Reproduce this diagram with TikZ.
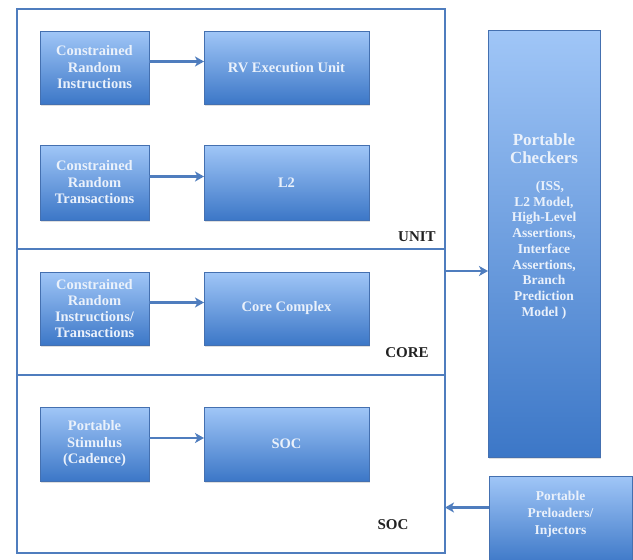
\documentclass[tikz,border=0pt]{standalone}
\usepackage{fontspec}
\setmainfont{Liberation Serif}
\usetikzlibrary{arrows.meta,shadows}
\definecolor{btop}{HTML}{A0C6F7}
\definecolor{bbot}{HTML}{3C77C7}
\definecolor{bdraw}{HTML}{4470B0}
\definecolor{framec}{HTML}{4F7DBE}
\definecolor{btxt}{HTML}{EAF1FB}
\definecolor{lbl}{HTML}{222222}
\begin{document}
\begin{tikzpicture}[x=1pt,y=-1pt,
  blk/.style={draw=bdraw, line width=0.8pt, top color=btop, bottom color=bbot,
    text=btxt, font=\bfseries\fontsize{14.5}{16.5}\selectfont, align=center,
    inner sep=2pt, outer sep=0pt,
    drop shadow={opacity=0.25, shadow xshift=1.2pt, shadow yshift=-1.5pt}},
  sec/.style={draw=framec, line width=2.4pt, inner sep=0pt, outer sep=0pt, minimum width=428pt},
  lab/.style={text=lbl, font=\bfseries\fontsize{15}{17}\selectfont, inner sep=0pt},
  wtxt/.style={text=btxt, align=center, inner sep=0pt},
  arr/.style={draw=framec, line width=2.6pt, -{Stealth[length=9pt,width=10pt,inset=2.5pt]}}
]
\useasboundingbox (0,0) rectangle (633,560);
\fill[white] (0,0) rectangle (633,560);

% sections
\node[sec, minimum height=240pt] (unitsec) at (231,129) {};
\node[sec, minimum height=126pt] (coresec) at (231,312) {};
\node[sec, minimum height=178pt] (socsec) at (231,464) {};

\node[lab] (unitlab) at (417,237) {UNIT};
\node[lab] (corelab) at (407,353) {CORE};
\node[lab] (soclab) at (393,525) {SOC};

% blocks
\node[blk, minimum width=109pt, minimum height=73pt, text width=104pt] (cri) at (94.5,67.5) {Constrained\\Random\\Instructions};
\node[blk, minimum width=165pt, minimum height=73pt] (rv) at (286.5,67.5) {RV Execution Unit};
\node[blk, minimum width=109pt, minimum height=75pt, text width=104pt] (crt) at (94.5,182.5) {Constrained\\Random\\Transactions};
\node[blk, minimum width=165pt, minimum height=75pt] (l2) at (286.5,182.5) {L2};
\node[blk, minimum width=109pt, minimum height=73pt, text width=104pt, font=\bfseries\fontsize{14.5}{16}\selectfont] (crit) at (94.5,308.5) {Constrained\\Random\\Instructions/\\Transactions};
\node[blk, minimum width=165pt, minimum height=73pt] (cc) at (286.5,308.5) {Core Complex};
\node[blk, minimum width=109pt, minimum height=74pt, text width=104pt] (ps) at (94.5,444) {Portable\\Stimulus\\(Cadence)};
\node[blk, minimum width=165pt, minimum height=74pt] (soc) at (286.5,444) {SOC};

\node[blk, minimum width=112pt, minimum height=427pt] (checkers) at (544,243.5) {};
\node[wtxt, font=\bfseries\fontsize{17}{18}\selectfont] (chkhead) at (544,149) {Portable\\Checkers};
\node[wtxt, font=\bfseries\fontsize{13.5}{15.7}\selectfont, anchor=north] (chktxt) at (544,181)
  {\hspace*{12pt}(ISS,\\L2 Model,\\High-Level\\Assertions,\\Interface\\Assertions,\\Branch\\Prediction\\Model )};

\node[blk, minimum width=143pt, minimum height=89pt] (preload) at (560.5,520.5) {};
\node[wtxt, font=\bfseries\fontsize{13.5}{17}\selectfont] (pretxt) at (560.5,514) {Portable\\Preloaders/\\Injectors};

% arrows
\draw[arr] ([yshift=6pt]cri.east) -- ([yshift=6pt]rv.west);
\draw[arr] ([yshift=6pt]crt.east) -- ([yshift=6pt]l2.west);
\draw[arr] ([yshift=6pt]crit.east) -- ([yshift=6pt]cc.west);
\draw[arr] ([yshift=6pt]ps.east) -- ([yshift=6pt]soc.west);

\coordinate (a1) at ([yshift=-22pt]coresec.north east);
\draw[arr] (a1) -- (a1 -| checkers.west);
\coordinate (a2) at ([yshift=13pt]preload.west);
\draw[arr] (a2) -- (a2 -| socsec.east);
\end{tikzpicture}
\end{document}
